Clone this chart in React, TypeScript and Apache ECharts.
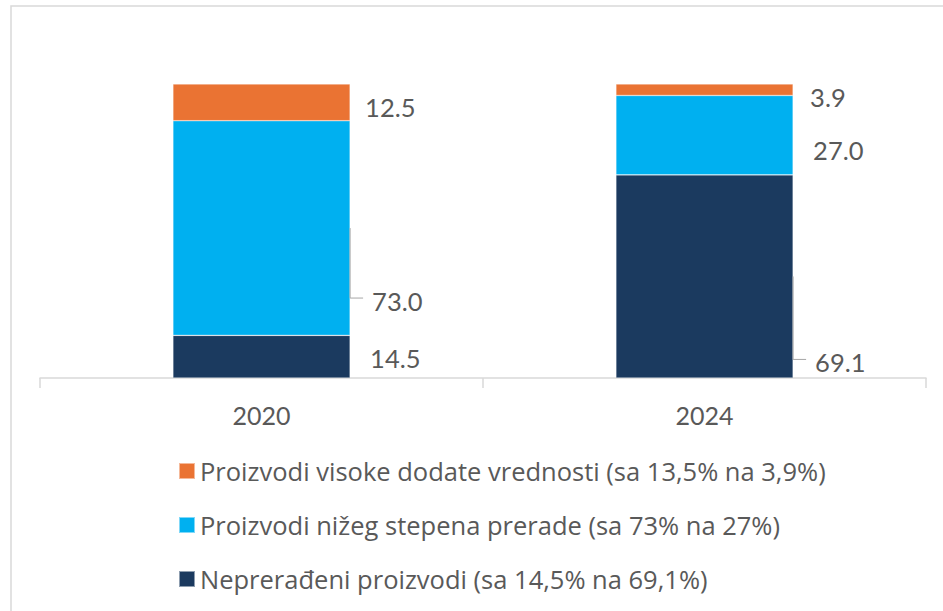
import React, { useEffect, useRef } from "react";
import * as echarts from "echarts";

const categories = ["2020", "2024"];
const seriesNames = [
  "Neprerađeni proizvodi (sa 14,5% na 69,1%)",
  "Proizvodi nižeg stepena prerade (sa 73% na 27%)",
  "Proizvodi visoke dodate vrednosti (sa 13,5% na 3,9%)",
];
const unprocessed = [14.5, 69.1];
const lowerProcessed = [73.0, 27.0];
const highValue = [12.5, 3.9];

const seriesValues = [unprocessed, lowerProcessed, highValue];
const colors = ["#1B3A5F", "#00B0F0", "#EA7333"];
// label placement tweaks (pixels) per series, per category: [dx, dy]
const labelShift = [
  [[20, 1], [22, 86]],
  [[22, 73], [20, 15]],
  [[15, 5], [17, 7]],
];
// which labels have leader lines: [seriesIndex, categoryIndex]
const leaders = [
  [1, 0],
  [0, 1],
];

const FONT = "Lato";
const LEGEND_FONT = "Open Sans";
const TEXT = "#595959";

export default function App() {
  const ref = useRef<HTMLDivElement>(null);
  useEffect(() => {
    const chart = echarts.init(ref.current!, null, { renderer: "svg" });
    const option: any = {
      animation: false,
      backgroundColor: "#ffffff",
      grid: { left: 40, right: 17, top: 84, bottom: 233, containLabel: false },
      legend: {
        orient: "vertical",
        left: 173,
        top: 451,
        data: [seriesNames[2], seriesNames[1], seriesNames[0]],
        icon: "rect",
        itemWidth: 16,
        itemHeight: 16,
        itemGap: 24,
        textStyle: {
          fontFamily: LEGEND_FONT,
          fontSize: 25.5,
          color: TEXT,
          lineHeight: 30,
        },
      },
      xAxis: {
        type: "category",
        data: categories,
        axisLine: { lineStyle: { color: "#D9D9D9", width: 1.5 } },
        axisTick: { show: true, length: 10, lineStyle: { color: "#D9D9D9", width: 1.5 } },
        axisLabel: { fontFamily: FONT, fontSize: 25, color: TEXT, margin: 24 },
      },
      yAxis: { type: "value", min: 0, max: 100, show: false, splitLine: { show: false } },
      series: seriesValues.map((vals, s) => ({
        name: seriesNames[s],
        type: "bar",
        stack: "total",
        barWidth: "40%",
        itemStyle: { color: colors[s], borderColor: "rgba(255,255,255,0.5)", borderWidth: 0.6 },
        data: vals.map((v, c) => ({
          value: v,
          label: {
            distance: labelShift[s][c][0],
            offset: [0, labelShift[s][c][1]],
          },
        })),
        label: {
          show: true,
          position: "right",
          fontFamily: FONT,
          fontSize: 25.5,
          color: TEXT,
          formatter: (p: any) => Number(p.value).toFixed(1),
        },
      })),
    };
    chart.setOption(option);

    const x0 = chart.convertToPixel({ gridIndex: 0 }, [0, 0]) as number[];
    const x1 = chart.convertToPixel({ gridIndex: 0 }, [1, 0]) as number[];
    const bw = (x1[0] - x0[0]) * 0.4;
    const lines: any[] = leaders.map(([s, c], i) => {
      let base = 0;
      for (let k = 0; k < s; k++) base += seriesValues[k][c];
      const mid = base + seriesValues[s][c] / 2;
      const p = chart.convertToPixel({ gridIndex: 0 }, [c, mid]) as number[];
      const xr = p[0] + bw / 2;
      const ly = p[1] + labelShift[s][c][1] - 3;
      return {
        type: "polyline",
        id: "leader" + i,
        silent: true,
        shape: { points: [[xr, p[1]], [xr, ly], [xr + 13, ly]] },
        style: { stroke: "#A6A6A6", lineWidth: 1, fill: "none" },
        z: 10,
      };
    });
    chart.setOption({
      graphic: [
        {
          type: "rect",
          id: "border",
          silent: true,
          shape: { x: 11, y: 6, width: 1000, height: 700 },
          style: { stroke: "#D9D9D9", lineWidth: 1.5, fill: "none" },
          z: -1,
        },
        ...lines,
      ],
    });
    return () => chart.dispose();
  }, []);
  return (
    <div
      ref={ref}
      style={{ position: "absolute", left: 0, top: 0, width: 943, height: 611 }}
    />
  );
}
